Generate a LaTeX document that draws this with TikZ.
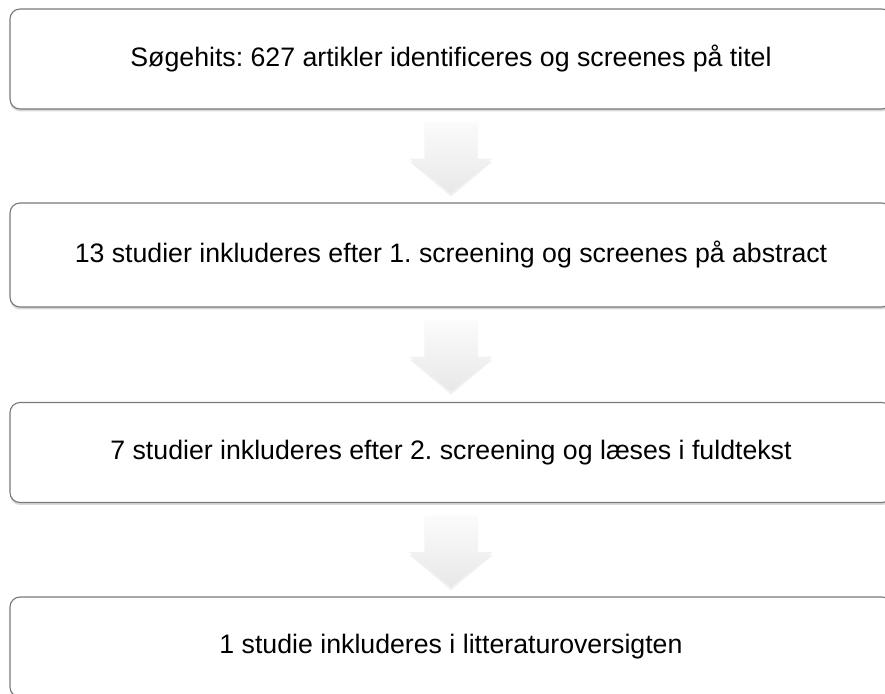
\documentclass[tikz,border=0pt]{standalone}
\usepackage{fontspec}
\setmainfont{Liberation Sans}
\usetikzlibrary{calc,shadows}
\frenchspacing
\tikzset{
  stepbox/.style={draw=gray!95!black, line width=1.1pt, rounded corners=10pt, fill=white,
    minimum width=882pt, minimum height=100pt, font=\fontsize{26.7}{31}\selectfont,
    drop shadow={shadow xshift=0pt, shadow yshift=-2.5pt, opacity=0.3, fill=gray}},
  blockarrow/.style={top color=gray!3, bottom color=gray!18, draw=none,
    drop shadow={shadow xshift=0pt, shadow yshift=-3pt, opacity=0.12, fill=gray}}
}
\begin{document}
\begin{tikzpicture}[x=1pt,y=1pt]
  \useasboundingbox (0,0) rectangle (885,693);
  \node[stepbox] (b1) at (451,634) {Søgehits: 627 artikler identificeres og screenes på titel};
  \node[stepbox, minimum height=104pt] (b2) at (451,438) {13 studier inkluderes efter 1. screening og screenes på abstract};
  \node[stepbox] (b3) at (451,240.5) {7 studier inkluderes efter 2. screening og læses i fuldtekst};
  \node[stepbox] (b4) at (451,46) {1 studie inkluderes i litteraturoversigten};
  \foreach \a/\b in {b1/b2,b2/b3,b3/b4}{
    \begin{scope}[shift={(\a.south)}]
      \path[blockarrow] (-26.5,-12) -- (26.5,-12) -- (26.5,-49) -- (41.5,-49)
        -- (0,-84) -- (-41.5,-49) -- (-26.5,-49) -- cycle;
    \end{scope}
  }
\end{tikzpicture}
\end{document}
